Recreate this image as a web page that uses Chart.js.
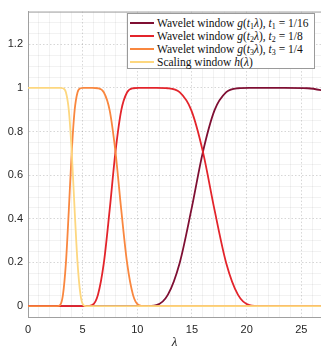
<!DOCTYPE html>
<html>
<head>
<meta charset="utf-8">
<script src="https://cdn.jsdelivr.net/npm/chart.js@4.4.1/dist/chart.umd.min.js"></script>
<style>
  html, body { margin: 0; padding: 0; background: #fff; }
  #wrap { position: relative; width: 321px; height: 348px; }
  #legend {
    position: absolute; left: 127px; top: 13px; width: 186px; height: 54px;
    background: #fff; border: 1px solid #9a9a9a;
    font-family: "Liberation Serif", "DejaVu Serif", serif; font-size: 11.5px; color: #111;
  }
  .row { position: absolute; left: 2px; height: 13px; line-height: 13px; white-space: nowrap; }
  .row span.line { display: inline-block; width: 24px; height: 2px; vertical-align: middle; margin-right: 3px; position: relative; top: -1px; }
  sub { font-size: 8px; vertical-align: -2px; line-height: 0; }
</style>
</head>
<body>
<div id="wrap">
  <canvas id="waveletChart" width="321" height="348"></canvas>
  <div id="legend">
    <div class="row" style="top:3px"><span class="line" style="background:#7f0f33"></span>Wavelet window <i>g</i>(<i>t</i><sub>1</sub><i>λ</i>), <i>t</i><sub>1</sub> = 1/16</div>
    <div class="row" style="top:16px"><span class="line" style="background:#e3242b"></span>Wavelet window <i>g</i>(<i>t</i><sub>2</sub><i>λ</i>), <i>t</i><sub>2</sub> = 1/8</div>
    <div class="row" style="top:29px"><span class="line" style="background:#f9873f"></span>Wavelet window <i>g</i>(<i>t</i><sub>3</sub><i>λ</i>), <i>t</i><sub>3</sub> = 1/4</div>
    <div class="row" style="top:42px"><span class="line" style="background:#fdd77f"></span>Scaling window <i>h</i>(<i>λ</i>)</div>
  </div>
</div>
<script>
// Wavelet window g(t1 λ), t1 = 1/16
const lambdaG1 = [0, 10.6667, 11.7333, 12.8, 13.8667, 14.9333, 16.0, 17.0667, 18.1333, 19.2, 20.2667, 21.3333, 23.4667, 25.6, 27.7333];
const valuesG1 = [0, 0, 0.0043, 0.0524, 0.1967, 0.4397, 0.7071, 0.8982, 0.9805, 0.9986, 1.0, 1, 1.0, 0.9986, 0.9805];

// Wavelet window g(t2 λ), t2 = 1/8
const lambdaG2 = [0, 5.3333, 5.8667, 6.4, 6.9333, 7.4667, 8.0, 8.5333, 9.0667, 9.6, 10.1333, 10.6667,
                  11.7333, 12.8, 13.8667, 14.9333, 16.0, 17.0667, 18.1333, 19.2, 20.2667, 21.3333, 26.8];
const valuesG2 = [0, 0, 0.0043, 0.0524, 0.1967, 0.4397, 0.7071, 0.8982, 0.9805, 0.9986, 1.0, 1,
                  1.0, 0.9986, 0.9805, 0.8982, 0.7071, 0.4397, 0.1967, 0.0524, 0.0043, 0, 0];

// Wavelet window g(t3 λ), t3 = 1/4
const lambdaG3 = [0, 2.6667, 2.9333, 3.2, 3.4667, 3.7333, 4.0, 4.2667, 4.5333, 4.8, 5.0667, 5.3333,
                  5.8667, 6.4, 6.9333, 7.4667, 8.0, 8.5333, 9.0667, 9.6, 10.1333, 10.6667, 26.8];
const valuesG3 = [0, 0, 0.0043, 0.0524, 0.1967, 0.4397, 0.7071, 0.8982, 0.9805, 0.9986, 1.0, 1,
                  1.0, 0.9986, 0.9805, 0.8982, 0.7071, 0.4397, 0.1967, 0.0524, 0.0043, 0, 0];

// Scaling window h(λ)
const lambdaH = [0, 2.6667, 2.9333, 3.2, 3.4667, 3.7333, 4.0, 4.2667, 4.5333, 4.8, 5.0667, 5.3333, 26.8];
const valuesH = [1, 1, 1.0, 0.9986, 0.9805, 0.8982, 0.7071, 0.4397, 0.1967, 0.0524, 0.0043, 0, 0];

function toPoints(xs, ys) {
    return xs.map(function (x, i) { return { x: x, y: ys[i] }; });
}

function isMajorX(v) { return Math.abs(v / 5 - Math.round(v / 5)) < 1e-6; }
function isMajorY(v) { return Math.abs(v / 0.2 - Math.round(v / 0.2)) < 1e-6; }

const lineStyle = { pointRadius: 0, borderWidth: 1.8, fill: false, cubicInterpolationMode: 'monotone' };

// draws the top edge of the axes box
const boxPlugin = {
    id: 'boxPlugin',
    afterDraw(chart) {
        const a = chart.chartArea, ctx = chart.ctx;
        ctx.save();
        ctx.strokeStyle = '#a0a0a0';
        ctx.lineWidth = 1;
        ctx.beginPath();
        ctx.moveTo(a.left, a.top + 0.5);
        ctx.lineTo(a.right, a.top + 0.5);
        ctx.stroke();
        ctx.restore();
    }
};

const ctx = document.getElementById('waveletChart').getContext('2d');
window.waveletChart = new Chart(ctx, {
    type: 'line',
    data: {
        datasets: [
            Object.assign({ data: toPoints(lambdaG1, valuesG1), borderColor: '#7f0f33', order: 4 }, lineStyle),
            Object.assign({ data: toPoints(lambdaG2, valuesG2), borderColor: '#e3242b', order: 3 }, lineStyle),
            Object.assign({ data: toPoints(lambdaG3, valuesG3), borderColor: '#f9873f', order: 2 }, lineStyle),
            Object.assign({ data: toPoints(lambdaH, valuesH), borderColor: '#fdd77f', order: 1 }, lineStyle)
        ]
    },
    options: {
        responsive: false,
        animation: false,
        devicePixelRatio: 1,
        layout: { padding: { top: 8, right: 0, left: 0, bottom: 0 } },
        plugins: { legend: { display: false }, tooltip: { enabled: false } },
        scales: {
            x: {
                type: 'linear',
                min: 0,
                max: 26.8,
                afterFit: function (scale) { scale.height = 31; },
                ticks: {
                    stepSize: 1,
                    autoSkip: false,
                    includeBounds: false,
                    maxRotation: 0,
                    padding: 6,
                    color: '#262626',
                    font: { family: 'Liberation Sans', size: 11 },
                    callback: function (v) { return isMajorX(v) ? String(Math.round(v)) : ''; }
                },
                grid: {
                    drawTicks: false,
                    color: function (c) { return c.tick && isMajorX(c.tick.value) ? 'rgba(0,0,0,0.16)' : 'rgba(0,0,0,0.05)'; }
                },
                border: {
                    color: '#a0a0a0',
                    dash: function (c) { return c.tick && isMajorX(c.tick.value) ? [1.5, 2] : []; }
                },
                title: {
                    display: true,
                    text: 'λ',
                    color: '#262626',
                    padding: { top: 0, bottom: -2 },
                    font: { family: 'Liberation Serif', size: 13, style: 'italic' }
                }
            },
            y: {
                min: -0.05,
                max: 1.35,
                afterFit: function (scale) { scale.width = 28; },
                ticks: {
                    stepSize: 0.05,
                    autoSkip: false,
                    includeBounds: false,
                    padding: 5,
                    color: '#262626',
                    font: { family: 'Liberation Sans', size: 11 },
                    callback: function (v) { return isMajorY(v) ? String(Number(v.toFixed(1))) : ''; }
                },
                grid: {
                    drawTicks: false,
                    color: function (c) { return c.tick && isMajorY(c.tick.value) ? 'rgba(0,0,0,0.16)' : 'rgba(0,0,0,0.05)'; }
                },
                border: {
                    color: '#a0a0a0',
                    dash: function (c) { return c.tick && isMajorY(c.tick.value) ? [1.5, 2] : []; }
                }
            }
        }
    },
    plugins: [boxPlugin]
});
</script>
</body>
</html>
